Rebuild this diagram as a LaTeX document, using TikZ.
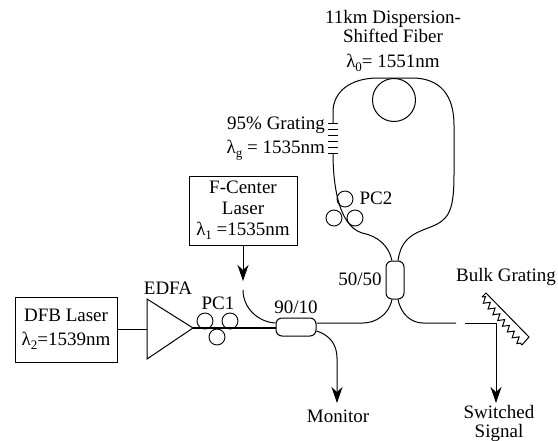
\documentclass[tikz,border=0pt]{standalone}
\usepackage{fontspec}
\setmainfont{Liberation Serif}
\usetikzlibrary{arrows.meta,decorations.pathmorphing}
\newcommand{\lam}[1]{λ\raisebox{-4pt}{\fontsize{13}{13}\selectfont #1}}
\tikzset{
    lbl/.style = {inner sep=0pt, font=\fontsize{19}{21}\selectfont, align=center},
    laserbox/.style = {draw, line width=1pt, inner sep=0pt, font=\fontsize{19}{21}\selectfont, align=center},
    coupler/.style = {draw, line width=1pt, rounded corners=6pt, inner sep=0pt},
    pcloop/.style = {draw, line width=0.9pt, circle, inner sep=0pt, minimum size=16pt},
    fiber/.style = {line width=1pt},
    tip/.style = {fiber, -{Stealth[length=16pt,width=11pt,inset=5pt]}},
}
\begin{document}
\begin{tikzpicture}[x=1pt, y=-1pt]
    \useasboundingbox (0, 0) rectangle (558, 440);
    % boxes
    \node [laserbox, minimum width=102pt, minimum height=65pt] (dfb) at (66, 329.5) {DFB Laser\\[3pt]\lam{2}=1539nm};
    \node [laserbox, minimum width=108pt, minimum height=69pt] (fcenter) at (243, 210.5) {F-Center\\Laser\\\lam{1} =1535nm};
    \node [coupler, minimum width=40pt, minimum height=18pt] (cninety) at (296, 327) {};
    \node [coupler, minimum width=18pt, minimum height=38pt] (cfifty) at (395, 280) {};
    % amplifier
    \coordinate (edfain) at (147, 329);
    \coordinate (edfatip) at (193, 328);
    \draw [line width=1pt, line join=miter] (147, 299) -- (edfatip) -- (147, 359) -- cycle;
    \draw [line width=0.6pt] (dfb.east |- edfain) -- (edfain);
    \draw [line width=1.2pt] (edfatip) -- (cninety.west |- edfatip);
    % polarization controllers
    \node [pcloop] (pcia) at (205, 321) {};
    \node [pcloop] (pcib) at (230, 321) {};
    \node [pcloop] (pcic) at (217, 337) {};
    \node [pcloop] (pciia) at (345, 199) {};
    \node [pcloop] (pciib) at (334, 218) {};
    \node [pcloop] (pciic) at (355, 218) {};
    % fiber loop
    \node [draw, line width=1pt, circle, inner sep=0pt, minimum size=43pt] (spool) at (394, 100) {};
    \coordinate (gratingtop) at (333, 123);
    \coordinate (gratingbot) at (333, 153);
    \draw [fiber] (cfifty.99) .. controls (389, 246) and (378, 236) .. (362, 233)
        .. controls (337, 225) and (333, 180) .. (gratingbot);
    \draw [fiber] (gratingtop) -- (333, 112) .. controls (333, 92) and (350, 78) .. (378, 78)
        -- (412, 78) .. controls (440, 78) and (454, 95) .. (454, 125) -- (454, 175)
        .. controls (454, 205) and (450, 214) .. (443, 220)
        .. controls (430, 232) and (402, 228) .. (cfifty.81);
    \foreach \y in {123, 129, 135, 141, 147, 153} {
        \draw [line width=0.9pt] (328, \y) -- (338, \y);
    }
    % couplers and outputs
    \coordinate (fcenterend) at (243, 290);
    \coordinate (monitorend) at (337, 403);
    \coordinate (gapleft) at (456, 323);
    \coordinate (gapright) at (465, 323);
    \coordinate (reflect) at (496, 323);
    \coordinate (switchedend) at (496, 403);
    \draw [tip] (fcenter.south) -- (243, 281);
    \draw [fiber] (fcenterend) .. controls (243, 308) and (258, 322) .. (cninety.169);
    \draw [fiber] (cninety.11) -- (363, 323) .. controls (375, 323) and (389, 315) .. (cfifty.-99);
    \draw [fiber] (cfifty.-81) .. controls (401, 315) and (412, 323) .. (423, 323) -- (gapleft);
    \draw [fiber] (gapright) -- (reflect);
    \draw [tip] (reflect) -- (switchedend);
    \draw [tip] (cninety.-11) .. controls (330, 335) and (337, 345) .. (337, 358) -- (monitorend);
    % bulk grating
    \draw [line width=1pt] (482, 297) -- (486, 293) -- (529, 337) -- (522, 345);
    \draw [line width=1pt, decorate, decoration={zigzag, segment length=7.5pt, amplitude=3pt}] (482, 297) -- (522, 345);
    % labels
    \node [lbl] (fiberlbl) at (393, 41) {11km Dispersion-\\[-2pt]Shifted Fiber\\[4pt]\lam{0}= 1551nm};
    \node [lbl, align=right, anchor=east] (gratinglbl) at (325, 139) {95\% Grating\\[3pt]\lam{g} = 1535nm};
    \node [lbl] (edfalbl) at (168, 288) {EDFA};
    \node [lbl] (pcilbl) at (218, 303) {PC1};
    \node [lbl] (pciilbl) at (376, 198) {PC2};
    \node [lbl] (ninetylbl) at (296, 307) {90/10};
    \node [lbl] (fiftylbl) at (360, 279) {50/50};
    \node [lbl] (bulklbl) at (506, 277) {Bulk Grating};
    \node [lbl] (monitorlbl) at (338, 416) {Monitor};
    \node [lbl] (switchedlbl) at (499, 423) {Switched\\[-2pt]Signal};
\end{tikzpicture}
\end{document}
